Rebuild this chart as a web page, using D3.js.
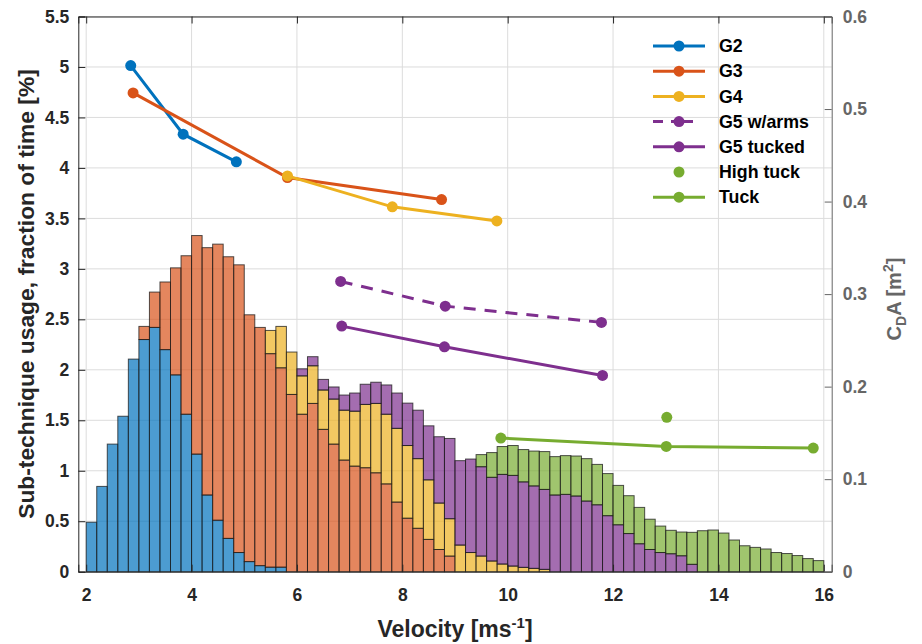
<!DOCTYPE html>
<html><head><meta charset="utf-8">
<script src="https://cdn.jsdelivr.net/npm/d3@7"></script>
<style>
html,body{margin:0;padding:0;background:#fff;}
svg text{font-family:"Liberation Sans",Arial,Helvetica,sans-serif;font-weight:bold;}
</style></head>
<body><svg id="c" width="922" height="644"></svg>
<script>
// ---- data ----
const binLefts = [2.0,2.2,2.4,2.6,2.8,3.0,3.2,3.4,3.6,3.8,4.0,4.2,4.4,4.6,4.8,5.0,5.2,5.4,5.6,5.8,
 6.0,6.2,6.4,6.6,6.8,7.0,7.2,7.4,7.6,7.8,8.0,8.2,8.4,8.6,8.8,9.0,9.2,9.4,9.6,9.8,
 10.0,10.2,10.4,10.6,10.8,11.0,11.2,11.4,11.6,11.8,12.0,12.2,12.4,12.6,12.8,13.0,13.2,13.4,13.6,13.8,
 14.0,14.2,14.4,14.6,14.8,15.0,15.2,15.4,15.6,15.8];
const binWidth = 0.2;
const histG2 = [0.49,0.845,1.264,1.54,2.106,2.30,2.42,2.20,1.95,1.56,1.165,0.76,0.51,0.33,0.19,0.10,0.06,0.045,0.045,0,
 0,0,0,0,0,0,0,0,0,0,0,0,0,0,0,0,0,0,0,0,0,0,0,0,0,0,0,0,0,0,0,0,0,0,0,0,0,0,0,0,0,0,0,0,0,0,0,0,0,0];
const histG3 = [0,0,0,0,0,0.13,0.35,0.67,1.06,1.57,2.165,2.45,2.735,2.79,2.85,2.445,2.36,2.115,1.975,1.756,
 1.56,1.667,1.41,1.264,1.106,1.046,1.03,0.98,0.87,0.69,0.53,0.43,0.32,0.22,0.155,0,0,0,0,0,
 0,0,0,0,0,0,0,0,0,0,0,0,0,0,0,0,0,0,0,0,0,0,0,0,0,0,0,0,0,0];
const histG4 = [0,0,0,0,0,0,0,0,0,0,0,0,0,0,0,0,0,0.23,0.41,0.42,
 0.38,0.373,0.39,0.446,0.494,0.544,0.627,0.687,0.69,0.73,0.72,0.69,0.59,0.46,0.37,0.264,0.19,0.155,0.106,0.076,
 0.056,0.043,0.033,0.023,0,0,0,0,0,0,0,0,0,0,0,0,0,0,0,0,0,0,0,0,0,0,0,0,0,0];
const histG5 = [0,0,0,0,0,0,0,0,0,0,0,0,0,0,0,0,0,0,0,0,
 0.07,0.09,0.105,0.12,0.15,0.18,0.20,0.21,0.29,0.35,0.42,0.48,0.535,0.657,0.795,0.836,0.926,0.885,0.829,0.888,
 0.898,0.847,0.817,0.792,0.76,0.766,0.75,0.70,0.663,0.555,0.465,0.378,0.277,0.22,0.19,0.178,0.158,0.073,0,0,
 0,0,0,0,0,0,0,0,0,0];
const histTuck = [0,0,0,0,0,0,0,0,0,0,0,0,0,0,0,0,0,0,0,0,
 0,0,0,0,0,0,0,0,0,0,0,0,0,0,0,0,0,0.12,0.245,0.276,
 0.296,0.32,0.345,0.375,0.38,0.384,0.396,0.42,0.40,0.417,0.39,0.375,0.36,0.30,0.262,0.232,0.235,0.317,0.406,0.413,
 0.383,0.314,0.257,0.241,0.225,0.19,0.18,0.16,0.13,0.11];

const cdaG2 = {x:[2.845,3.84,4.85], y:[0.547,0.4728,0.4429]};
const cdaG3 = {x:[2.89,5.82,8.745], y:[0.5174,0.426,0.4022]};
const cdaG4 = {x:[5.82,7.81,9.795], y:[0.4277,0.3943,0.3791]};
const cdaG5arms = {x:[6.83,8.815,11.78], y:[0.3137,0.287,0.2694]};
const cdaG5tucked = {x:[6.85,8.80,11.80], y:[0.2654,0.243,0.2121]};
const cdaHighTuck = {x:[13.02], y:[0.1668]};
const cdaTuck = {x:[9.87,13.01,15.80], y:[0.1444,0.1354,0.1336]};

const xTicks = [2,4,6,8,10,12,14,16];
const yLeftTicks = [0,0.5,1,1.5,2,2.5,3,3.5,4,4.5,5,5.5];
const yRightTicks = [0,0.1,0.2,0.3,0.4,0.5,0.6];
const legendNames = ["G2","G3","G4","G5 w/arms","G5 tucked","High tuck","Tuck"];

// ---- drawing ----
const colors = ["#0072BD","#D95319","#EDB120","#7E2F8E","#77AC30"];
const L = 78.3, R = 831.7, T = 16.5, B = 571.7;
const svg = d3.select("#c");
const x = d3.scaleLinear().domain([1.85,16.15]).range([L,R]);
const yL = d3.scaleLinear().domain([0,5.5]).range([B,T]);
const yR = d3.scaleLinear().domain([0,0.6]).range([B,T]);

// grid
const g = svg.append("g");
g.selectAll("line.gx").data(xTicks).join("line")
  .attr("x1",d=>x(d)).attr("x2",d=>x(d)).attr("y1",T).attr("y2",B)
  .attr("stroke","#dcdcdc").attr("stroke-width",1);
g.selectAll("line.gy").data(yLeftTicks).join("line")
  .attr("y1",d=>yL(d)).attr("y2",d=>yL(d)).attr("x1",L).attr("x2",R)
  .attr("stroke","#dcdcdc").attr("stroke-width",1);

// stacked histogram
const layers = [histG2,histG3,histG4,histG5,histTuck];
const barsG = svg.append("g");
layers.forEach((arr,li)=>{
  const segs = binLefts.map((b,i)=>{
    let base = 0; for(let k=0;k<li;k++) base += layers[k][i];
    return {x0:b, x1:b+binWidth, y0:base, y1:base+arr[i], v:arr[i]};
  }).filter(d=>d.v>0);
  barsG.selectAll(null).data(segs).join("rect")
    .attr("x",d=>x(d.x0)).attr("width",d=>x(d.x1)-x(d.x0))
    .attr("y",d=>yL(d.y1)).attr("height",d=>yL(d.y0)-yL(d.y1))
    .attr("fill",colors[li]).attr("fill-opacity",0.7)
    .attr("stroke","#1a1a1a").attr("stroke-opacity",0.75).attr("stroke-width",1);
});

// CdA lines
const series = [
  {d:cdaG2,c:colors[0],line:true,dash:null},
  {d:cdaG3,c:colors[1],line:true,dash:null},
  {d:cdaG4,c:colors[2],line:true,dash:null},
  {d:cdaG5arms,c:colors[3],line:true,dash:"12,9"},
  {d:cdaG5tucked,c:colors[3],line:true,dash:null},
  {d:cdaHighTuck,c:colors[4],line:false,dash:null},
  {d:cdaTuck,c:colors[4],line:true,dash:null}
];
const lineGen = d3.line().x(p=>x(p[0])).y(p=>yR(p[1]));
series.forEach(s=>{
  const pts = s.d.x.map((v,i)=>[v,s.d.y[i]]);
  if(s.line){
    svg.append("path").attr("d",lineGen(pts)).attr("fill","none")
      .attr("stroke",s.c).attr("stroke-width",3).attr("stroke-dasharray",s.dash);
  }
  svg.selectAll(null).data(pts).join("circle")
    .attr("cx",p=>x(p[0])).attr("cy",p=>yR(p[1])).attr("r",5.5).attr("fill",s.c);
});

// axes
const ax = svg.append("g");
const xAxB = d3.axisBottom(x).tickValues(xTicks).tickSize(-7).tickPadding(17).tickFormat(d3.format("d"));
const gxB = ax.append("g").attr("transform",`translate(0,${B})`).call(xAxB);
const xAxT = d3.axisTop(x).tickValues(xTicks).tickSize(-7).tickFormat("");
const gxT = ax.append("g").attr("transform",`translate(0,${T})`).call(xAxT);
const yAxL = d3.axisLeft(yL).tickValues(yLeftTicks).tickSize(-7).tickPadding(9).tickFormat(d=>String(d));
const gyL = ax.append("g").attr("transform",`translate(${L},0)`).call(yAxL);
const yAxR = d3.axisRight(yR).tickValues(yRightTicks).tickSize(-7).tickPadding(11).tickFormat(d=>String(d));
const gyR = ax.append("g").attr("transform",`translate(${R},0)`).call(yAxR);
[gxB,gxT,gyL].forEach(gg=>{
  gg.select(".domain").attr("stroke","#262626").attr("stroke-width",1);
  gg.selectAll(".tick line").attr("stroke","#262626");
  gg.selectAll(".tick text").attr("fill","#262626").attr("font-size",17.5);
});
gyR.select(".domain").attr("stroke","#666").attr("stroke-width",1);
gyR.selectAll(".tick line").attr("stroke","#666");
gyR.selectAll(".tick text").attr("fill","#666").attr("font-size",17.5);
gxB.selectAll(".tick text").attr("dy","0.71em");

// axis labels
svg.append("text").attr("x",455).attr("y",637).attr("text-anchor","middle")
  .attr("font-size",23).attr("fill","#262626")
  .html('Velocity [ms<tspan dy="-9" font-size="15">-1</tspan><tspan dy="9">]</tspan>');
svg.append("text").attr("transform",`translate(34,294) rotate(-90)`)
  .attr("text-anchor","middle").attr("font-size",22.8).attr("fill","#262626")
  .text("Sub-technique usage, fraction of time [%]");
svg.append("text").attr("transform",`translate(901,299) rotate(-90)`)
  .attr("text-anchor","middle").attr("font-size",20).attr("fill","#666")
  .html('C<tspan dy="5" font-size="14">D</tspan><tspan dy="-5">A [m</tspan><tspan dy="-8" font-size="14">2</tspan><tspan dy="8">]</tspan>');

// legend
const lg = svg.append("g");
legendNames.forEach((name,i)=>{
  const s = series[i];
  const yy = 46 + i*25.2;
  if(s.line){
    lg.append("line").attr("x1",653).attr("x2",s.dash?693:705).attr("y1",yy).attr("y2",yy)
      .attr("stroke",s.c).attr("stroke-width",3).attr("stroke-dasharray",s.dash?"10,8,30":null);
  }
  lg.append("circle").attr("cx",679).attr("cy",yy).attr("r",5.5).attr("fill",s.c);
  lg.append("text").attr("x",719).attr("y",yy).attr("dy","0.35em")
    .attr("font-size",17.8).attr("fill","#000").text(name);
});
</script></body></html>
